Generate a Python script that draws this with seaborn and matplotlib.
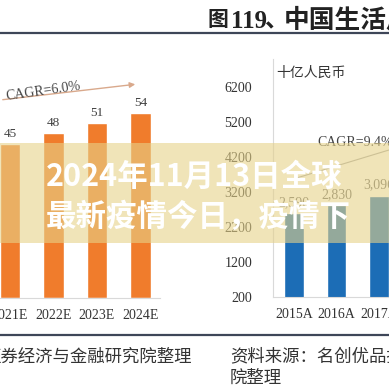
import matplotlib
matplotlib.use("Agg")
import matplotlib.pyplot as plt
import matplotlib.patches as mpatches
import seaborn as sns

# data
left_years = ["2021E", "2022E", "2023E", "2024E"]
left_values = [45, 48, 51, 54]
right_years = ["2015A", "2016A", "2017A"]
right_values = [2590, 2830, 3096]
right_ticks = [200, 1200, 2200, 3200, 4200, 5200, 6200]

ORANGE = "#F07C2C"
BLUE = "#1C6DB6"
W = H = 389.0

sns.set_style("white")
plt.rcParams["font.family"] = ["Liberation Serif", "Noto Sans CJK SC", "DejaVu Sans"]
CJK = ["Noto Sans CJK SC", "DejaVu Sans"]


def fx(px):
    return px / W


def fy(py):
    return 1 - py / H


fig = plt.figure(figsize=(3.89, 3.89), dpi=100)
fig.patch.set_facecolor("white")

# left chart (cropped at the left edge)
ax1 = fig.add_axes([fx(0), fy(298), fx(160), (298 - 60) / H])
sns.barplot(x=left_years, y=left_values, color=ORANGE, saturation=1, width=0.48, ax=ax1)
ax1.set_xlim(-0.23, 3.45)
ax1.set_ylim(0, 69.4)
ax1.set_yticks([])
for s in ["left", "right", "top"]:
    ax1.spines[s].set_visible(False)
ax1.spines["bottom"].set_color("#D9D9D9")
ax1.tick_params(axis="x", length=0, pad=8, labelsize=10, labelcolor="#333333")
for i, v in enumerate(left_values):
    ax1.annotate(str(v), (i, v), xytext=(0, 3), textcoords="offset points",
                 ha="center", va="bottom", fontsize=9.5, color="#404040")
ax1.set_facecolor("none")

# right chart (cropped at the right edge)
ax2 = fig.add_axes([fx(273), fy(297), fx(389 - 273), (297 - 59) / H])
sns.barplot(x=right_years, y=right_values, color=BLUE, saturation=1, width=0.47, ax=ax2)
ax2.set_xlim(-0.494, 2.235)
ax2.set_ylim(200, 7000)
ax2.set_yticks(right_ticks)
ax2.set_yticklabels([str(t) for t in right_ticks])
for s in ["right", "top"]:
    ax2.spines[s].set_visible(False)
ax2.spines["left"].set_color("#D9D9D9")
ax2.spines["bottom"].set_color("#D9D9D9")
ax2.tick_params(axis="y", length=0, pad=15, labelsize=10, labelcolor="#333333")
ax2.tick_params(axis="x", length=0, pad=8, labelsize=10, labelcolor="#333333")
for i, v in enumerate(right_values):
    ax2.annotate(f"{v:,}", (i, v), xytext=(0, 3), textcoords="offset points",
                 ha="center", va="bottom", fontsize=10, color="#666666")
ax2.set_facecolor("none")
fig.text(fx(276), fy(73), "十亿人民币", family=CJK,
         fontsize=10, color="#333333", va="center", ha="left")

# CAGR notes
fig.text(fx(5), fy(91), "CAGR=6.0%", fontsize=10, color="#444444",
         rotation=8, va="center", ha="left")
fig.add_artist(mpatches.FancyArrowPatch((fx(0), fy(100)), (fx(138), fy(84)),
                                        transform=fig.transFigure, arrowstyle="-|>",
                                        mutation_scale=8, color="#D9A98C", lw=1))
fig.text(fx(317), fy(143), "CAGR=9.4%", fontsize=10, color="#444444",
         va="center", ha="left")
fig.add_artist(plt.Line2D([fx(290), fx(389)], [fy(180), fy(150)],
                          transform=fig.transFigure, color="#A8A8A8", lw=0.8))

# page title (pieces placed to match the cropped header) and rules
title_kw = dict(fontweight="bold", color="#222222", va="center", ha="left")
fig.text(fx(207), fy(20), "图", family=CJK, fontsize=15, **title_kw)
fig.text(fx(231), fy(21), "119", family=["Liberation Serif"], fontsize=18, **title_kw)
fig.text(fx(264), fy(20), "、", family=CJK, fontsize=17, **title_kw)
fig.text(fx(284), fy(20), "中国生活用纸市场规模", family=CJK, fontsize=18.5, **title_kw)
fig.add_artist(plt.Line2D([0, 1], [fy(33), fy(33)], transform=fig.transFigure,
                          color="#3E4658", lw=1.6))
fig.add_artist(plt.Line2D([0, 1], [fy(335), fy(335)], transform=fig.transFigure,
                          color="#3E4658", lw=1.6))

# sources
fig.text(fx(192), fy(357), "证券经济与金融研究院整理", family=CJK, fontsize=12.5,
         color="#333333", va="center", ha="right")
fig.text(fx(230), fy(357), "资料来源：名创优品招股书，研究", family=CJK, fontsize=12.5,
         color="#333333", va="center", ha="left")
fig.text(fx(230), fy(378), "院整理", family=CJK, fontsize=12.5,
         color="#333333", va="center", ha="left")

# translucent headline band
fig.add_artist(mpatches.Rectangle((0, fy(243)), 1, (243 - 143) / H, transform=fig.transFigure,
                                  facecolor=(230 / 255, 210 / 255, 137 / 255), alpha=0.6,
                                  edgecolor="none", zorder=5))
fig.text(fx(46), fy(177), "2024年11月13日全球", family=CJK, fontsize=22, fontweight="bold",
         color="white", va="center", ha="left", zorder=6)
fig.text(fx(46), fy(217), "最新疫情今日，疫情下", family=CJK, fontsize=22, fontweight="bold",
         color="white", va="center", ha="left", zorder=6)

fig.savefig("out.png", dpi=100)
